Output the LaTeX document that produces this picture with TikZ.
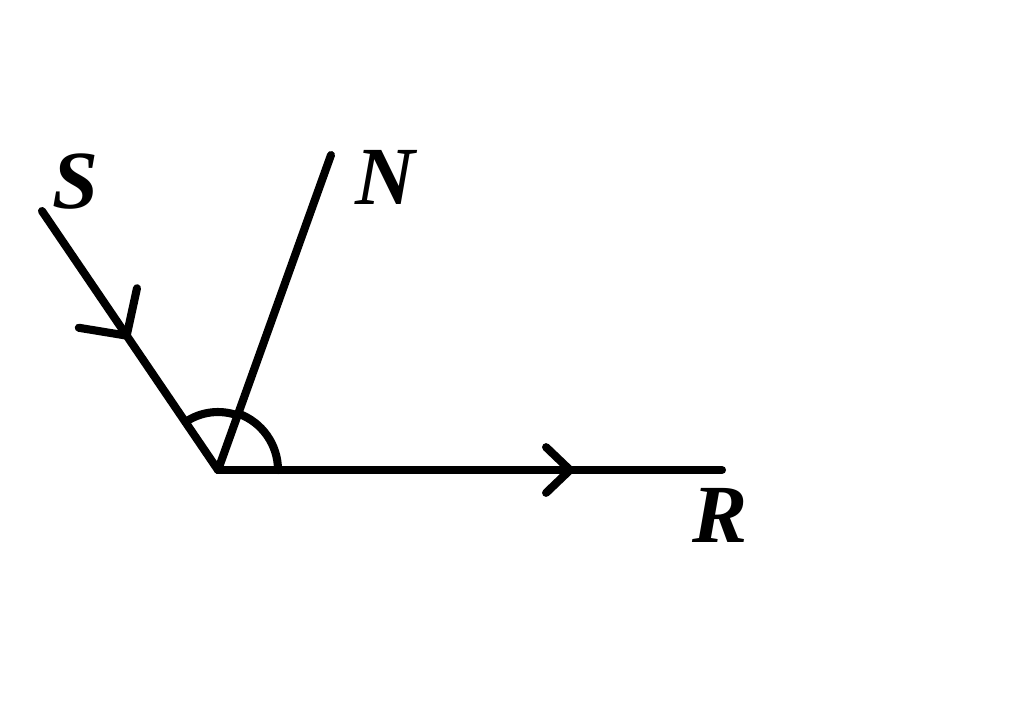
\documentclass[tikz,border=0pt]{standalone}
\usepackage{fontspec}
\setmainfont{Liberation Serif}
\usetikzlibrary{arrows.meta, decorations.markings}
\tikzstyle{ray} = [line width=2.3pt, line cap=round, line join=round]
\tikzstyle{letter} = [font=\fontsize{23.5}{26}\selectfont\bfseries\itshape, inner sep=0pt]
\tikzstyle{midarrow} = [decoration={markings, mark=at position #1 with {\arrow[line width=2.3pt]{Straight Barb[length=9.5pt, width=20pt, line cap=round]}}}, postaction={decorate}]
\tikzstyle{endarrow} = [decoration={markings, mark=at position #1 with {\arrow[line width=2.3pt]{Straight Barb[length=6.8pt, width=13pt, line cap=round]}}}, postaction={decorate}]

\begin{document}
\begin{tikzpicture}[x=0.01cm, y=-0.01cm]
\useasboundingbox (0,0) rectangle (1024,723);

\coordinate (O) at (218,470);
\coordinate (S) at (42,211);
\coordinate (N) at (331,155);
\coordinate (R) at (722,470);

\node (ls) [letter] at (75,182) {S};
\node (ln) [letter] at (385,177) {N};
\node (lr) [letter] at (720,515) {R};

\draw [ray, midarrow=0.5] (S) -- (O);
\draw [ray] (O) -- (N);
\draw [ray, endarrow=0.71] (O) -- (R);

% angle marks
\draw [ray] (O) ++(-124.2:58) arc[start angle=-124.2, end angle=-70.1, radius=58];
\draw [ray] (O) ++(-70.1:60) arc[start angle=-70.1, end angle=0, radius=60];

\end{tikzpicture}
\end{document}
